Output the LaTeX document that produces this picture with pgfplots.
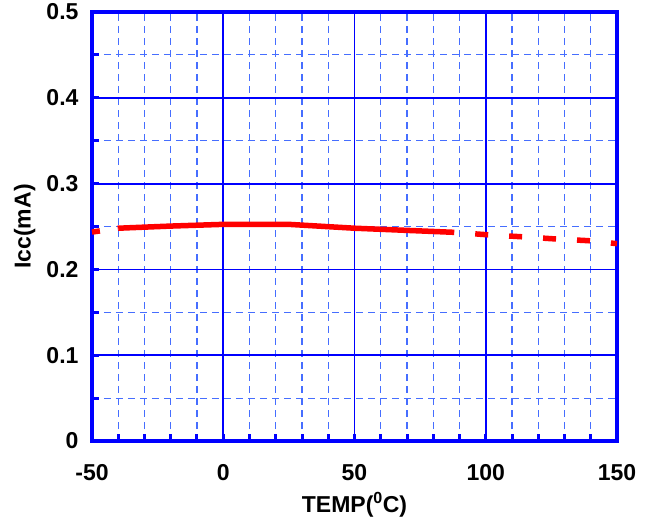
\documentclass[border=0pt]{standalone}
\usepackage{fontspec}
\setmainfont{Liberation Sans}
\usepackage{pgfplots}
\pgfplotsset{compat=1.18}
\definecolor{frameblue}{RGB}{0,0,255}
\definecolor{gridblue}{RGB}{70,110,255}
\definecolor{curvered}{RGB}{255,0,0}
\newcommand{\chartfont}{\bfseries\fontsize{23}{27}\selectfont}
\begin{document}
\begin{tikzpicture}
\begin{axis}[
    scale only axis,
    width=525pt, height=429pt,
    xmin=-50, xmax=150, ymin=0, ymax=0.5,
    xtick={-50,0,50,100,150},
    xticklabels={-50,0,50,100,150},
    ytick={0,0.1,0.2,0.3,0.4,0.5},
    yticklabels={0,0.1,0.2,0.3,0.4,0.5},
    minor x tick num=4, minor y tick num=1,
    grid=both,
    major grid style={frameblue, line width=1.8pt},
    minor grid style={gridblue, line width=1.1pt, dash pattern=on 7pt off 5pt},
    axis line style={frameblue, line width=4.5pt},
    tick pos=left, tick align=inside,
    major tick length=7pt, minor tick length=7pt,
    every tick/.style={frameblue, line width=3pt},
    tick label style={font=\chartfont},
    xticklabel style={yshift=-20pt},
    yticklabel style={xshift=-10pt},
    label style={font=\chartfont},
    xlabel={TEMP(\textsuperscript{0}C)},
    xlabel style={at={(axis description cs:0.5,-0.149)}, anchor=center},
    ylabel={Icc(mA)},
    ylabel style={at={(axis description cs:-0.128,0.5)}, anchor=center},
    clip=false,
]
% measured range
\addplot[curvered, line width=5.5pt, line cap=butt] coordinates {
    (-40,0.248) (-20,0.2505) (0,0.2525) (25,0.2525) (50,0.248) (88,0.2432)
};
% extrapolated ends
\addplot[curvered, line width=5.5pt, line cap=butt, dash pattern=on 8pt off 18pt] coordinates {
    (-50,0.2435) (-40,0.248)
};
\addplot[curvered, line width=5.5pt, line cap=butt, dash pattern=on 0pt off 21pt on 13pt off 0pt] coordinates {
    (88,0.2432) (100,0.2405) (115,0.2378) (127,0.2354) (139,0.2335) (150,0.230)
};
\end{axis}
\pgfresetboundingbox
\path (-92pt,-84pt) rectangle (559pt,441pt);
\end{tikzpicture}
\end{document}
